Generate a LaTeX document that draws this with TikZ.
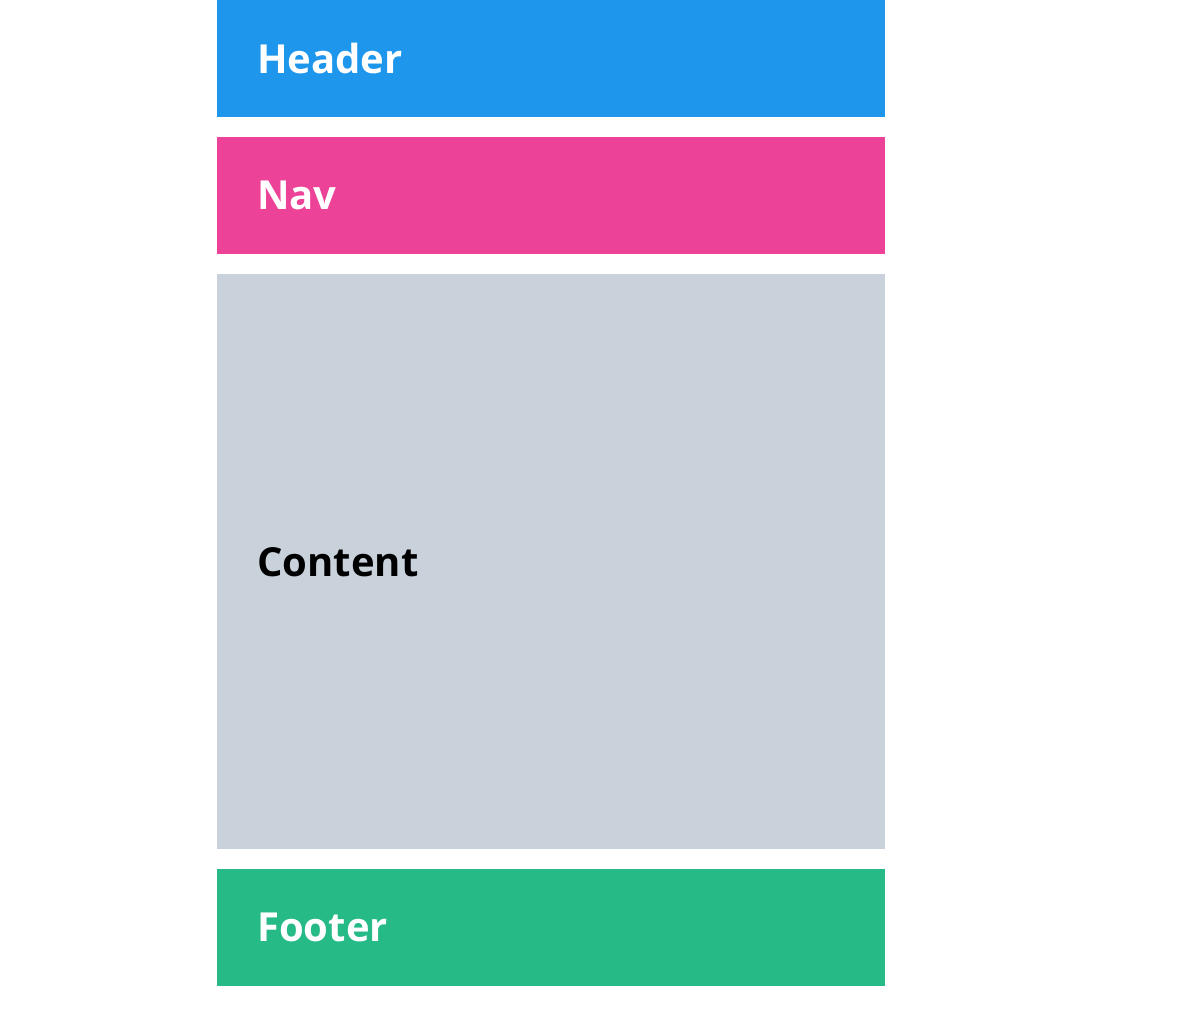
\documentclass[tikz,border=0pt]{standalone}
\usepackage{fontspec}
\setmainfont{Open Sans}
\usepackage{xcolor}
\usetikzlibrary{positioning}

\definecolor{headerblue}{HTML}{1D96EC}
\definecolor{navpink}{HTML}{EC4399}
\definecolor{contentgray}{HTML}{C9D1DB}
\definecolor{footergreen}{HTML}{26BA87}

\tikzset{
    area/.style={rectangle, anchor=north west, inner sep=0pt, minimum width=668*0.75pt},
    arealabel/.style={anchor=west, inner sep=0pt, font=\fontsize{30}{36}\selectfont\bfseries}
}

\begin{document}
\begin{tikzpicture}[x=0.75pt, y=-0.75pt]
    \useasboundingbox (0,0) rectangle (1200,1024);

    % Layout areas
    \node[area, fill=headerblue, minimum height=117*0.75pt] (header) at (217,0) {};
    \node[area, fill=navpink, minimum height=117*0.75pt] (nav) at (217,137) {};
    \node[area, fill=contentgray, minimum height=575*0.75pt] (content) at (217,274) {};
    \node[area, fill=footergreen, minimum height=117*0.75pt] (footer) at (217,869) {};

    % Labels
    \node[arealabel, text=white, right=30pt of header.west] (headerlabel) {Header};
    \node[arealabel, text=white, right=30pt of nav.west] (navlabel) {Nav};
    \node[arealabel, text=black, right=30pt of content.west] (contentlabel) {Content};
    \node[arealabel, text=white, right=30pt of footer.west] (footerlabel) {Footer};
\end{tikzpicture}
\end{document}
